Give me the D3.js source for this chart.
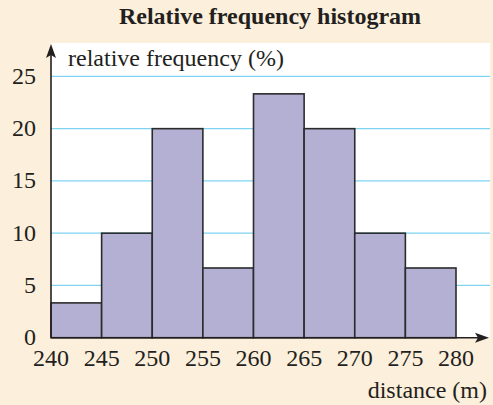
<!DOCTYPE html>
<html>
<head>
<meta charset="utf-8">
<script src="https://cdn.jsdelivr.net/npm/d3@7"></script>
<style>
  html, body { margin: 0; padding: 0; background: #fcefdb; }
  svg { display: block; }
  text { font-family: "Liberation Serif", "Times New Roman", serif; fill: #231f20; }
</style>
</head>
<body>
<svg id="chart" width="493" height="405"></svg>
<script>
// Class boundaries (m) and relative frequency of each class (%)
const binStarts = [240, 245, 250, 255, 260, 265, 270, 275];
const binWidth = 5;
const relFreq = [3.33, 10, 20, 6.67, 23.33, 20, 10, 6.67];
const xTicks = [240, 245, 250, 255, 260, 265, 270, 275, 280];
const yTicks = [0, 5, 10, 15, 20, 25];

const svg = d3.select("#chart");
const x0 = 51, y0 = 337.7;
const x = d3.scaleLinear().domain([240, 280]).range([x0, 456]);
const y = d3.scaleLinear().domain([0, 25]).range([y0, 76.4]);
const plotRight = 490, plotTop = 43;

// white plotting area
svg.append("rect")
  .attr("x", x0).attr("y", plotTop)
  .attr("width", plotRight - x0).attr("height", y0 - plotTop)
  .attr("fill", "#ffffff");

// horizontal grid lines
svg.append("g").selectAll("line")
  .data(yTicks.filter(d => d > 0))
  .join("line")
  .attr("x1", x0).attr("x2", plotRight)
  .attr("y1", d => y(d)).attr("y2", d => y(d))
  .attr("stroke", "#7fd3f2").attr("stroke-width", 1.3);

// histogram bars
svg.append("g").selectAll("rect")
  .data(binStarts.map((s, i) => ({ s, v: relFreq[i] })))
  .join("rect")
  .attr("x", d => x(d.s))
  .attr("width", d => x(d.s + binWidth) - x(d.s))
  .attr("y", d => y(d.v))
  .attr("height", d => y0 - y(d.v))
  .attr("fill", "#b4b0d3")
  .attr("stroke", "#2b2b2b")
  .attr("stroke-width", 1.6);

// axes with arrows
const axisColor = "#231f20";
svg.append("line")
  .attr("x1", x0).attr("x2", 478).attr("y1", y0).attr("y2", y0)
  .attr("stroke", axisColor).attr("stroke-width", 1.6);
svg.append("path")
  .attr("d", `M489,${y0} L475,${y0 - 5} L478,${y0} L475,${y0 + 5} Z`)
  .attr("fill", axisColor);
svg.append("line")
  .attr("x1", x0).attr("x2", x0).attr("y1", y0).attr("y2", 55)
  .attr("stroke", axisColor).attr("stroke-width", 1.6);
svg.append("path")
  .attr("d", `M${x0},44 L${x0 - 5},58 L${x0},55 L${x0 + 5},58 Z`)
  .attr("fill", axisColor);

// tick labels
svg.append("g").selectAll("text")
  .data(xTicks)
  .join("text")
  .attr("x", d => x(d)).attr("y", 366)
  .attr("text-anchor", "middle")
  .attr("font-size", 24)
  .text(d => d);

svg.append("g").selectAll("text")
  .data(yTicks)
  .join("text")
  .attr("x", 36).attr("y", d => y(d) + 7.5)
  .attr("text-anchor", "end")
  .attr("font-size", 24)
  .text(d => d);

// titles
svg.append("text")
  .attr("x", 270).attr("y", 24)
  .attr("text-anchor", "middle")
  .attr("font-size", 24).attr("font-weight", "bold")
  .text("Relative frequency histogram");

svg.append("text")
  .attr("x", 68).attr("y", 66)
  .attr("font-size", 24)
  .text("relative frequency (%)");

svg.append("text")
  .attr("x", 487).attr("y", 398)
  .attr("text-anchor", "end")
  .attr("font-size", 24)
  .text("distance (m)");
</script>
</body>
</html>
